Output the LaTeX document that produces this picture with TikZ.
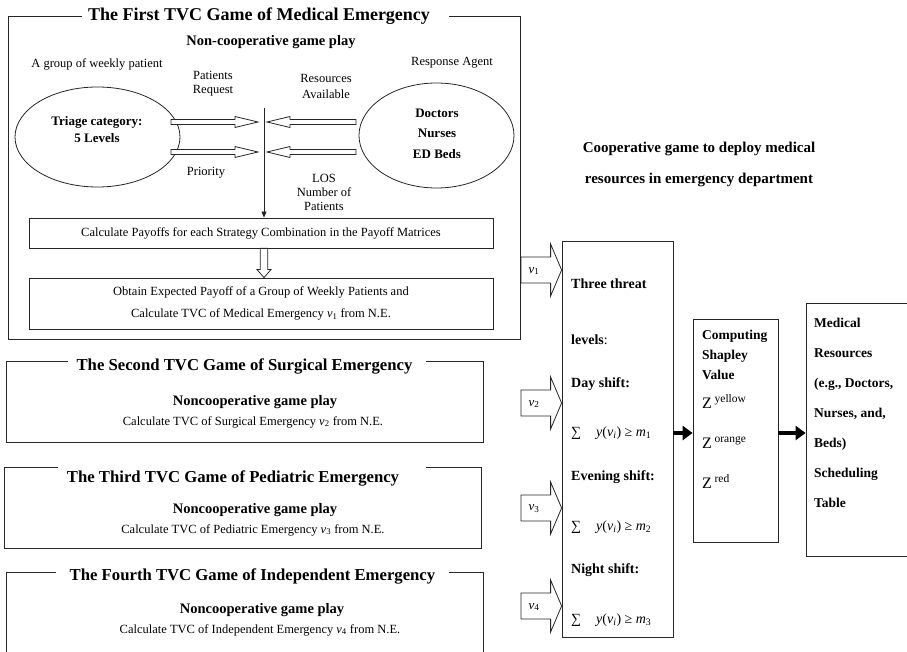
\documentclass[tikz,border=0pt]{standalone}
\usepackage{fontspec}
\setmainfont{Liberation Serif}
\usetikzlibrary{positioning,calc,arrows.meta,shapes.geometric}

\newcommand{\sz}[2]{\fontsize{#1}{#2}\selectfont}
% hollow block arrow: from, to, shaft half width, head half width, head length
\newcommand{\hollowarrow}[5]{%
  \draw[hollow] ($(#1)!#3!90:(#2)$) -- ($(#2)!#5!(#1)!#3!-90:(#1)$) -- ($(#2)!#5!(#1)!#4!-90:(#1)$)
    -- (#2) -- ($(#2)!#5!(#1)!#4!90:(#1)$) -- ($(#2)!#5!(#1)!#3!90:(#1)$) -- ($(#1)!#3!-90:(#2)$) -- cycle;}

\tikzset{
  frame/.style={draw=black!85, line width=0.8pt, inner sep=0pt},
  gametitle/.style={fill=white, inner xsep=12pt, inner ysep=5pt, font=\sz{16.7}{19}\bfseries},
  plaintext/.style={font=\sz{12.5}{14}, align=center, inner sep=0pt},
  subhead/.style={font=\sz{14.5}{16}\bfseries, inner sep=0pt},
  procbox/.style={frame, minimum width=464pt, align=center, font=\sz{12.5}{22}},
  boldlist/.style={anchor=west, inner sep=0pt, align=left, font=\sz{14}{16}\bfseries},
  hollow/.style={draw=black!85, line width=0.8pt, fill=white, line join=miter},
  solidarrow/.style={-{Triangle[length=10pt,width=14pt]}, line width=4pt},
}

\begin{document}
\begin{tikzpicture}[x=1pt,y=-1pt]
\useasboundingbox (0,0) rectangle (907,652);
\clip (0,0) rectangle (907,652);

% the four TVC games
\node[frame, minimum width=512pt, minimum height=323pt] (game1) at (264,177.5) {};
\node[frame, minimum width=477pt, minimum height=81pt] (game2) at (244.5,401.5) {};
\node[frame, minimum width=477pt, minimum height=81pt] (game3) at (242.5,507.5) {};
\node[frame, minimum width=477pt, minimum height=100pt] (game4) at (244.5,622) {};
\node[gametitle, inner xsep=6pt, font=\sz{18}{20}\bfseries] (title1) at ($(game1.north)+(1.5,1)$) {The First TVC Game of Medical Emergency\hspace*{13pt}};
\node[gametitle, inner xsep=9pt] (title2) at ($(game2.north)+(2.5,6)$) {The Second TVC Game of Surgical Emergency\hspace*{5pt}};
\node[gametitle, inner xsep=9pt] (title3) at ($(game3.north)+(-0.5,12)$) {The Third TVC Game of Pediatric Emergency\hspace*{18pt}};
\node[gametitle, inner xsep=14pt] (title4) at ($(game4.north)+(8,5)$) {The Fourth TVC Game of Independent Emergency};

% first game in detail
\node[subhead] (ncgp) at (271,42) {Non-cooperative game play};
\node[plaintext] (group) at (97,64) {A group of weekly patient};
\node[plaintext] (agent) at (452,63) {Response Agent};
\node[draw=black!85, line width=0.8pt, ellipse, minimum width=165pt, minimum height=100pt] (triage) at (97.5,137) {};
\node[plaintext, font=\sz{13}{17}\bfseries] at (97,129.5) {Triage category:\\5 Levels};
\node[draw=black!85, line width=0.8pt, ellipse, minimum width=155pt, minimum height=105pt] (staff) at (436.5,135.5) {};
\node[plaintext, font=\sz{13}{20.5}\bfseries] at (437,133.5) {Doctors\\Nurses\\ED Beds};
\node[plaintext] (preq) at (213,84) {Patients\\Request};
\node[plaintext, font=\sz{12.5}{16}] (ravail) at (326,86) {Resources\\Available};
\node[plaintext] (prio) at (206,173) {Priority};
\node[plaintext] (los) at (324,192) {LOS\\Number of\\Patients};

\node[procbox, minimum height=30pt] (calc) at (261,233) {Calculate Payoffs for each Strategy Combination in the Payoff Matrices};
\node[procbox, minimum height=51pt] (obtain) at (261,303.5) {Obtain Expected Payoff of a Group of Weekly Patients and\\Calculate TVC of Medical Emergency \textit{v}\textsubscript{1} from N.E.};

\coordinate (split) at (264,108);
\draw[black!85, line width=0.8pt, -{Triangle[length=6pt,width=5pt]}] (split) -- (split |- calc.north);
\coordinate (req0) at (171,122); \coordinate (req1) at (258,122);
\coordinate (pri0) at (171,152); \coordinate (pri1) at (258,152);
\coordinate (res0) at (356,122); \coordinate (res1) at (267,122);
\coordinate (los0) at (356,152); \coordinate (los1) at (267,152);
\hollowarrow{req0}{req1}{2.5pt}{5.5pt}{23pt}
\hollowarrow{pri0}{pri1}{2.5pt}{5.5pt}{23pt}
\hollowarrow{res0}{res1}{2.5pt}{5.5pt}{23pt}
\hollowarrow{los0}{los1}{2.5pt}{5.5pt}{23pt}
\coordinate (pay0) at (calc.south -| split);
\coordinate (pay1) at (obtain.north -| split);
\hollowarrow{pay0}{pay1}{3.8pt}{7pt}{8pt}

% other games
\foreach \i/\kind/\x/\ya/\yb in {2/Surgical/255/402/422, 3/Pediatric/255/510/530, 4/Independent/262/610/630}{
  \node[subhead] (ncgp\i) at (\x,\ya) {Noncooperative game play};
  \node[plaintext] (tvc\i) at (\x-2,\yb) {Calculate TVC of \kind\ Emergency \textit{v}\textsubscript{\i} from N.E.};
}

% cooperative game
\node[plaintext, font=\sz{15}{31}\bfseries] (coop) at (699,164.5) {Cooperative game to deploy medical\\resources in emergency department};

\node[frame, minimum width=111pt, minimum height=396pt] (threat) at (617.5,439) {};
\node[boldlist] (three) at (571,284) {Three threat};
\node[boldlist] (levels) at (571,340) {levels\textmd{:}};
\foreach \n/\ya/\yb/\s in {1/384/433/Day, 2/477/527/Evening, 3/570/620/Night}{
  \node[boldlist] (shift\n) at (571,\ya) {\s\ shift:};
  \node[anchor=west, inner sep=0pt, font=\sz{14}{16}] (sum\n) at (571,\yb) {∑\hspace{15pt}\textit{y}(\textit{v}\textsubscript{\textit{i}}) ≥ \textit{m}\textsubscript{\n}};
}

\foreach \i/\y in {1/270, 2/403, 3/508, 4/606}{
  \coordinate (vin\i) at (521,\y);
  \coordinate (vout\i) at (vin\i -| threat.west);
  \hollowarrow{vin\i}{vout\i}{13pt}{26pt}{11pt}
  \node[inner sep=0pt, font=\sz{13}{14}] (vlab\i) at ($(vin\i)+(13,1)$) {\textit{v}\textsubscript{\i}};
}

\node[frame, minimum width=85pt, minimum height=223pt] (shapley) at (735.5,430.5) {};
\node[boldlist, font=\sz{13.5}{20}\bfseries] (shaptext) at (702,355) {Computing\\Shapley\\Value};
\foreach \c/\y in {yellow/403, orange/443, red/483}{
  \node[anchor=base west, inner sep=0pt] (z\c) at (702,{\y+5.5}) {\sz{16}{18}Z\,\raisebox{6pt}{\sz{11.5}{12}\c}};
}

\node[frame, minimum width=106pt, minimum height=253pt] (medical) at (859,429.5) {};
\node[boldlist, font=\sz{13.5}{30}\bfseries] (medtext) at (814,413) {Medical\\Resources\\(e.g., Doctors,\\Nurses, and,\\Beds)\\Scheduling\\Table};

\coordinate (row) at (0,433);
\draw[solidarrow] (threat.east |- row) -- (shapley.west |- row);
\draw[solidarrow] (shapley.east |- row) -- (medical.west |- row);
\end{tikzpicture}
\end{document}
